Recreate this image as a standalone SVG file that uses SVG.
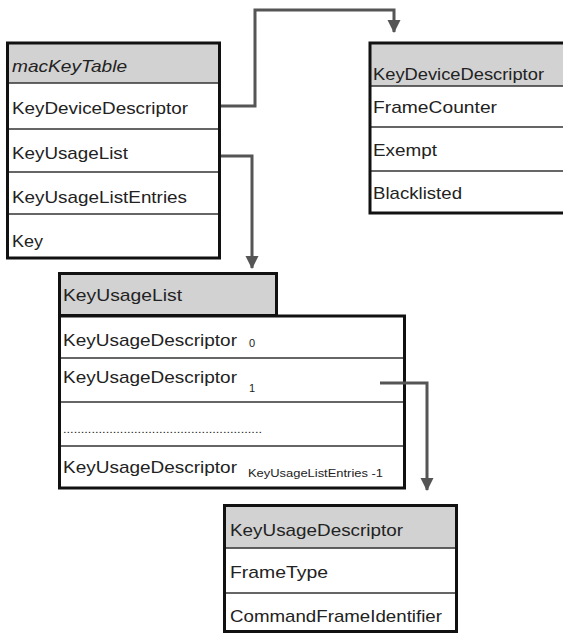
<svg xmlns="http://www.w3.org/2000/svg" width="563" height="635" viewBox="0 0 563 635">
  <style>
    .frame { fill: none; stroke: #111; stroke-width: 3; }
    .head { fill: #d2d2d2; }
    .body { fill: #fff; }
    .div { stroke: #333; stroke-width: 1.5; }
    .t { font-family: "Liberation Sans", Arial, sans-serif; font-size: 17px; fill: #222; }
    .sub { font-family: "Liberation Sans", Arial, sans-serif; font-size: 11px; fill: #222; }
    .it { font-style: italic; }
    .conn { fill: none; stroke: #555; stroke-width: 3; marker-end: url(#arrow); }
  </style>
  <defs>
    <marker id="arrow" markerUnits="userSpaceOnUse" viewBox="0 -7 13 14" refX="12" refY="0" markerWidth="13" markerHeight="14" orient="auto">
      <path d="M0,-6.5 L13,0 L0,6.5 z" fill="#555"/>
    </marker>
  </defs>
  <rect width="563" height="635" fill="#fff"/>

  <!-- macKeyTable -->
  <g id="macKeyTable">
    <rect class="body" x="7.5" y="43" width="212" height="215"/>
    <rect class="head" x="7.5" y="43" width="212" height="40"/>
    <line class="div" x1="7.5" y1="83" x2="219.5" y2="83"/>
    <line class="div" x1="7.5" y1="129" x2="219.5" y2="129"/>
    <line class="div" x1="7.5" y1="172" x2="219.5" y2="172"/>
    <line class="div" x1="7.5" y1="214" x2="219.5" y2="214"/>
    <rect class="frame" x="7.5" y="43" width="212" height="215"/>
    <text class="t it" x="12" y="72" textLength="115" lengthAdjust="spacingAndGlyphs">macKeyTable</text>
    <text class="t" x="12" y="114" textLength="176" lengthAdjust="spacingAndGlyphs">KeyDeviceDescriptor</text>
    <text class="t" x="12" y="159" textLength="116" lengthAdjust="spacingAndGlyphs">KeyUsageList</text>
    <text class="t" x="12" y="203" textLength="175" lengthAdjust="spacingAndGlyphs">KeyUsageListEntries</text>
    <text class="t" x="12" y="247" textLength="31" lengthAdjust="spacingAndGlyphs">Key</text>
  </g>

  <!-- KeyDeviceDescriptor -->
  <g id="keyDeviceDescriptor">
    <rect class="body" x="370" y="43" width="205" height="170"/>
    <rect class="head" x="370" y="43" width="205" height="43"/>
    <line class="div" x1="370" y1="86" x2="575" y2="86"/>
    <line class="div" x1="370" y1="127" x2="575" y2="127"/>
    <line class="div" x1="370" y1="171" x2="575" y2="171"/>
    <rect class="frame" x="370" y="43" width="205" height="170"/>
    <text class="t" x="373" y="80" textLength="171" lengthAdjust="spacingAndGlyphs">KeyDeviceDescriptor</text>
    <text class="t" x="373" y="113" textLength="124" lengthAdjust="spacingAndGlyphs">FrameCounter</text>
    <text class="t" x="373" y="156" textLength="64" lengthAdjust="spacingAndGlyphs">Exempt</text>
    <text class="t" x="373" y="199" textLength="89" lengthAdjust="spacingAndGlyphs">Blacklisted</text>
  </g>

  <!-- KeyUsageList -->
  <g id="keyUsageList">
    <rect class="head" x="59.5" y="273.5" width="217" height="42"/>
    <rect class="frame" x="59.5" y="273.5" width="217" height="42"/>
    <rect class="body" x="59.5" y="316" width="345" height="172"/>
    <line class="div" x1="59.5" y1="358" x2="404.5" y2="358"/>
    <line class="div" x1="59.5" y1="402" x2="404.5" y2="402"/>
    <line class="div" x1="59.5" y1="446" x2="404.5" y2="446"/>
    <rect class="frame" x="59.5" y="316" width="345" height="172"/>
    <text class="t" x="63" y="301" textLength="119" lengthAdjust="spacingAndGlyphs">KeyUsageList</text>
    <text class="t" x="63" y="346" textLength="174" lengthAdjust="spacingAndGlyphs">KeyUsageDescriptor</text>
    <text class="sub" x="249" y="347">0</text>
    <text class="t" x="63" y="383" textLength="174" lengthAdjust="spacingAndGlyphs">KeyUsageDescriptor</text>
    <text class="sub" x="249" y="392">1</text>
    <text class="sub" x="63" y="433" textLength="199" lengthAdjust="spacingAndGlyphs">........................................................</text>
    <text class="t" x="63" y="473" textLength="174" lengthAdjust="spacingAndGlyphs">KeyUsageDescriptor</text>
    <text class="sub" x="248" y="477" textLength="135" lengthAdjust="spacingAndGlyphs">KeyUsageListEntries -1</text>
  </g>

  <!-- KeyUsageDescriptor -->
  <g id="keyUsageDescriptor">
    <rect class="body" x="224.5" y="505.5" width="232" height="126"/>
    <rect class="head" x="224.5" y="505.5" width="232" height="43"/>
    <line class="div" x1="224.5" y1="548" x2="456.5" y2="548"/>
    <line class="div" x1="224.5" y1="593" x2="456.5" y2="593"/>
    <rect class="frame" x="224.5" y="505.5" width="232" height="126"/>
    <text class="t" x="230" y="536" textLength="173" lengthAdjust="spacingAndGlyphs">KeyUsageDescriptor</text>
    <text class="t" x="230" y="578" textLength="98" lengthAdjust="spacingAndGlyphs">FrameType</text>
    <text class="t" x="230" y="622" textLength="212" lengthAdjust="spacingAndGlyphs">CommandFrameIdentifier</text>
  </g>

  <!-- connectors -->
  <g id="connectors">
    <path class="conn" d="M221,106 H255 V10 H394 V32"/>
    <path class="conn" d="M221,156 H252 V268"/>
    <path class="conn" d="M380,383 H427 V490"/>
  </g>
</svg>
